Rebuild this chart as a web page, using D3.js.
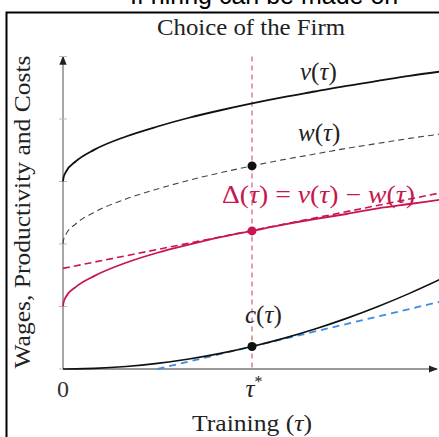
<!DOCTYPE html>
<html>
<head>
<meta charset="utf-8">
<script src="https://cdn.jsdelivr.net/npm/d3@7"></script>
<style>
body{margin:0;background:#fff;}
svg{display:block;}
.serif{font-family:"Liberation Serif","Times New Roman",serif;}
.it{font-style:italic;}
</style>
</head>
<body>
<svg width="439" height="437"></svg>
<script>
const svg=d3.select('svg');
const width=+svg.attr('width');
const height=+svg.attr('height');

/* values */
const tau   =[0,0.01,0.05,0.2,0.5,1,1.5,2,2.5,3,3.5,4,4.5,5,5.5,6];
const vVals =[3.00,3.07,3.16,3.32,3.51,3.72,3.88,4.02,4.14,4.25,4.35,4.44,4.53,4.61,4.69,4.76];
const wVals =[2.00,2.07,2.16,2.32,2.51,2.72,2.88,3.02,3.14,3.25,3.35,3.44,3.53,3.61,3.69,3.76];
const dVals =[1.00,1.07,1.16,1.31,1.49,1.70,1.86,1.99,2.11,2.21,2.31,2.40,2.48,2.57,2.64,2.71];
const cVals =[0,0,0.0001,0.0016,0.01,0.04,0.09,0.16,0.25,0.36,0.49,0.64,0.81,1.00,1.21,1.44];
const dTangent=[[0,1.61],[6,2.82]];
const cTangent=[[1.5,0],[6,1.08]];
const tauStar=3;
const yTicks=[0,1,2,3,4,5];

const crimson='#c8174e';
const blue='#3d8ee0';

const x=d3.scaleLinear().domain([0,6]).range([63,441]);
const y=d3.scaleLinear().domain([0,5]).range([369,56.5]);

// frame + clipped text on top
svg.append('text')
   .attr('x',130).attr('y',4)
   .attr('font-family','Liberation Sans, Arial, sans-serif')
   .attr('font-size',25)
   .text('If hiring can be made on');
svg.append('rect')
   .attr('x',6.5).attr('y',12.5)
   .attr('width',460).attr('height',460)
   .attr('fill','none').attr('stroke','#000').attr('stroke-width',2);

svg.append('text')
   .attr('class','serif')
   .attr('x',251).attr('y',35)
   .attr('text-anchor','middle')
   .attr('font-size',24).attr('fill','#222')
   .attr('textLength',188).attr('lengthAdjust','spacingAndGlyphs')
   .text('Choice of the Firm');

// arrows
const defs=svg.append('defs');
defs.append('marker').attr('id','arr')
   .attr('viewBox','0 0 10 10').attr('refX',9).attr('refY',5)
   .attr('markerWidth',7).attr('markerHeight',7).attr('orient','auto')
   .append('path').attr('d','M0,1L10,5L0,9Z').attr('fill','#222');

// axes
svg.append('line')
   .attr('x1',x(0)).attr('y1',y(0)).attr('x2',x(0)).attr('y2',y(5))
   .attr('stroke','#777').attr('stroke-width',1.3).attr('marker-end','url(#arr)');
svg.append('line')
   .attr('x1',x(0)).attr('y1',y(0)).attr('x2',437).attr('y2',y(0))
   .attr('stroke','#777').attr('stroke-width',1.3).attr('marker-end','url(#arr)');
svg.selectAll('.ytick').data(yTicks).enter().append('line')
   .attr('class','ytick')
   .attr('x1',x(0)-4).attr('x2',x(0)+4)
   .attr('y1',d=>y(d)).attr('y2',d=>y(d))
   .attr('stroke','#bbb').attr('stroke-width',1);

// tau* guide
svg.append('line')
   .attr('x1',x(tauStar)).attr('x2',x(tauStar))
   .attr('y1',y(5)).attr('y2',y(0))
   .attr('stroke','#cc3a62')
   .attr('stroke-width',1).attr('stroke-dasharray','5,4');

const line=d3.line().x(d=>x(d[0])).y(d=>y(d[1])).curve(d3.curveMonotoneX);
const pts=arr=>tau.map((t,i)=>[t,arr[i]]);

svg.append('path').attr('d',line(pts(vVals)))
   .attr('fill','none').attr('stroke','#111').attr('stroke-width',1.8);
svg.append('path').attr('d',line(pts(wVals)))
   .attr('fill','none').attr('stroke','#444').attr('stroke-width',1.1)
   .attr('stroke-dasharray','6,4');
svg.append('path').attr('d',line(dTangent))
   .attr('fill','none').attr('stroke',crimson).attr('stroke-width',1.6)
   .attr('stroke-dasharray','7,4');
svg.append('path').attr('d',line(pts(dVals)))
   .attr('fill','none').attr('stroke',crimson).attr('stroke-width',1.8);
svg.append('path').attr('d',line(cTangent))
   .attr('fill','none').attr('stroke',blue).attr('stroke-width',1.8)
   .attr('stroke-dasharray','7,5');
svg.append('path').attr('d',line(pts(cVals)))
   .attr('fill','none').attr('stroke','#111').attr('stroke-width',1.6);

// dots at tau*
const k=tau.indexOf(tauStar);
const dots=[[wVals[k],'#111'],[dVals[k],crimson],[cVals[k],'#111']];
svg.selectAll('.dot').data(dots).enter().append('circle')
   .attr('class','dot')
   .attr('cx',x(tauStar)).attr('cy',d=>y(d[0]))
   .attr('r',4.5).attr('fill',d=>d[1]);

// labels
function mathLabel(px,py,parts,color,size){
  const t=svg.append('text').attr('class','serif')
     .attr('x',px).attr('y',py).attr('font-size',size).attr('fill',color);
  parts.forEach(p=>{
    t.append('tspan').attr('class',p[1]?'it':null).text(p[0]);
  });
  return t;
}
mathLabel(300,80,[['v',1],['(',0],['τ',1],[')',0]],'#222',25);
mathLabel(298,141,[['w',1],['(',0],['τ',1],[')',0]],'#222',25);
mathLabel(245,323,[['c',1],['(',0],['τ',1],[')',0]],'#222',25);
mathLabel(222,203,[['Δ',0],['(',0],['τ',1],[')',0],[' = ',0],['v',1],['(',0],['τ',1],[')',0],[' − ',0],['w',1],['(',0],['τ',1],[')',0]],crimson,25)
   .attr('textLength',193).attr('lengthAdjust','spacingAndGlyphs');

svg.append('text').attr('class','serif')
   .attr('x',x(0)).attr('y',397).attr('text-anchor','middle')
   .attr('font-size',24).attr('fill','#333').text('0');
const ts=svg.append('text').attr('class','serif')
   .attr('x',x(tauStar)+2).attr('y',397).attr('text-anchor','middle')
   .attr('font-size',25).attr('fill','#222');
ts.append('tspan').attr('class','it').text('τ');
ts.append('tspan').attr('font-size',16).attr('dy',-10).text('*');

const xl=svg.append('text').attr('class','serif')
   .attr('x',252).attr('y',431).attr('text-anchor','middle')
   .attr('font-size',24).attr('fill','#222')
   .attr('textLength',120).attr('lengthAdjust','spacingAndGlyphs');
xl.append('tspan').text('Training (');
xl.append('tspan').attr('class','it').text('τ');
xl.append('tspan').text(')');

svg.append('text').attr('class','serif')
   .attr('transform','translate(30,212)rotate(-90)')
   .attr('text-anchor','middle')
   .attr('font-size',24).attr('fill','#222')
   .attr('textLength',313).attr('lengthAdjust','spacingAndGlyphs')
   .text('Wages, Productivity and Costs');
</script>
</body>
</html>
